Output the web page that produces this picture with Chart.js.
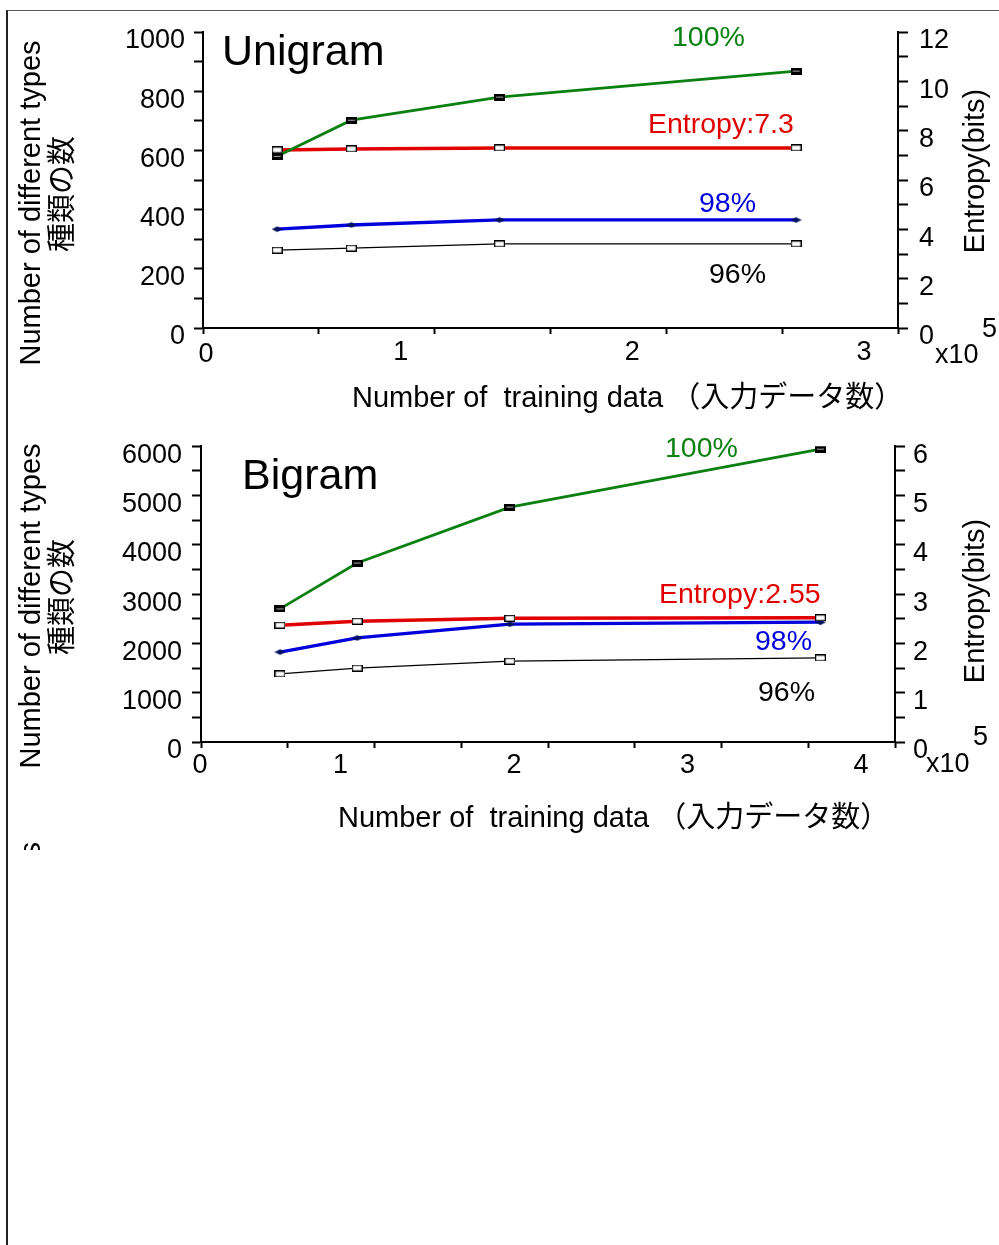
<!DOCTYPE html>
<html>
<head>
<meta charset="utf-8">
<script src="https://cdn.jsdelivr.net/npm/chart.js@4.4.1/dist/chart.umd.min.js"></script>
<style>
  html, body { margin: 0; padding: 0; background: #fff; }
  body { width: 999px; height: 1245px; overflow: hidden; position: relative; }
  #frame { position: absolute; left: 6px; top: 10px; width: 1000px; height: 1300px;
           border-top: 1px solid #555; border-left: 2px solid #222; }
  canvas { position: absolute; left: 0; }
  #uni { top: 0; }
  #bi { top: 420px; }
</style>
</head>
<body>
<div id="frame"></div>
<canvas id="uni" width="999" height="420"></canvas>
<canvas id="bi" width="999" height="430"></canvas>
<script>
// Unigram (x in units of 10^5 training data)
const uniX = [0.32, 0.64, 1.28, 2.56];
const uni100 = [580, 702, 780, 868];
const uni98 = [334, 348, 365, 365];
const uni96 = [263, 270, 284, 284];
const uniEntropy = [7.22, 7.26, 7.3, 7.3];

// Bigram
const biX = [0.455, 0.9, 1.78, 3.57];
const bi100 = [2700, 3630, 4765, 5940];
const bi98 = [1825, 2110, 2390, 2430];
const bi96 = [1380, 1500, 1640, 1705];
const biEntropy = [2.37, 2.45, 2.51, 2.52];

// tick labels
const uniXTicks = [1, 2, 3];
const uniYTicks = [0, 200, 400, 600, 800, 1000];
const uniY1Ticks = [0, 2, 4, 6, 8, 10, 12];
const biXTicks = [1, 2, 3, 4];
const biYTicks = [0, 1000, 2000, 3000, 4000, 5000, 6000];
const biY1Ticks = [0, 1, 2, 3, 4, 5, 6];

const FONT = '"Liberation Sans", Arial, "Noto Sans CJK JP", sans-serif';
const GREEN = "#0a8010", RED = "#e00000", BLUE = "#0000dd";

const makeMarker = (kind) => {
  const c = document.createElement("canvas");
  c.width = 11; c.height = 7;
  const g = c.getContext("2d");
  if (kind === "hollow") {
    g.fillStyle = "#fff"; g.fillRect(0, 0, 11, 7);
    g.strokeStyle = "#000"; g.lineWidth = 1.3; g.strokeRect(0.6, 0.6, 9.8, 5.8);
  } else if (kind === "dark") {
    g.fillStyle = "#000"; g.fillRect(0, 0, 11, 7);
    g.fillStyle = "#aaa"; g.fillRect(2, 3, 7, 1);
  } else {
    g.fillStyle = "#001060";
    g.beginPath(); g.moveTo(0, 3.5); g.lineTo(5.5, 0.8); g.lineTo(11, 3.5); g.lineTo(5.5, 6.2); g.closePath(); g.fill();
  }
  return c;
};
const hollow = makeMarker("hollow");
const dark = makeMarker("dark");
const diamond = makeMarker("diamond");

const series = (xs, ys, color, width, marker, axis) => ({
  data: xs.map((x, i) => ({ x, y: ys[i] })),
  borderColor: color,
  backgroundColor: color,
  borderWidth: width,
  pointStyle: marker,
  pointRadius: 4,
  yAxisID: axis,
  tension: 0,
  fill: false,
});

const textPlugin = (items) => ({
  id: "texts",
  afterDraw(chart) {
    const ctx = chart.ctx;
    items.forEach((t) => {
      ctx.save();
      ctx.font = t.font;
      ctx.fillStyle = t.color || "#000";
      ctx.textAlign = t.align || "left";
      ctx.textBaseline = t.baseline || "alphabetic";
      ctx.translate(t.x, t.y);
      if (t.rot) ctx.rotate(t.rot);
      ctx.fillText(t.text, 0, 0);
      ctx.restore();
    });
  },
});

const axisCommon = (min, max, step, labels, extra) => ({
  type: "linear",
  min, max,
  border: { color: "#000", width: 2 },
  grid: { drawOnChartArea: false, tickColor: "#000", tickWidth: 2, tickLength: extra.tickLength },
  ticks: {
    stepSize: step,
    autoSkip: false,
    maxRotation: 0,
    color: "#000",
    font: { family: FONT, size: 27 },
    padding: extra.padding,
    labelOffset: extra.labelOffset,
    callback: (v) => (labels.includes(v) ? String(v) : ""),
  },
  afterFit: extra.fit,
  position: extra.position,
});

const makeChart = (id, cfg) => {
  new Chart(document.getElementById(id).getContext("2d"), {
    type: "line",
    data: { datasets: cfg.datasets },
    options: {
      responsive: false,
      animation: false,
      events: [],
      layout: { padding: { top: cfg.top, left: 0, right: 0, bottom: 0 } },
      plugins: { legend: { display: false }, tooltip: { enabled: false } },
      scales: {
        x: axisCommon(0, cfg.xMax, 0.5, cfg.xTicks, {
          position: "bottom", tickLength: 6, padding: cfg.xPad, labelOffset: -34,
          fit: (s) => { s.height = cfg.xHeight; },
        }),
        y: axisCommon(0, cfg.yMax, cfg.yStep, cfg.yTicks, {
          position: "left", tickLength: 9, padding: cfg.yPad, labelOffset: 9,
          fit: (s) => { s.width = cfg.left; },
        }),
        y1: axisCommon(0, cfg.y1Max, cfg.y1Step, cfg.y1Ticks, {
          position: "right", tickLength: 10, padding: cfg.y1Pad, labelOffset: 9,
          fit: (s) => { s.width = cfg.rightW; },
        }),
      },
    },
    plugins: [textPlugin(cfg.texts)],
  });
};

const f = (size) => `${size}px ${FONT}`;
const xTitle = "Number of  training data \uFF08入力データ数\uFF09";

makeChart("uni", {
  top: 32, left: 203, rightW: 101, xHeight: 92,
  xMax: 3, yMax: 1000, yStep: 100, y1Max: 12, y1Step: 1,
  xTicks: uniXTicks, yTicks: uniYTicks, y1Ticks: uniY1Ticks,
  xPad: 2, yPad: 9, y1Pad: 11,
  datasets: [
    series(uniX, uni100, GREEN, 2.8, dark, "y"),
    series(uniX, uniEntropy, RED, 3.5, hollow, "y1"),
    series(uniX, uni98, BLUE, 3.3, diamond, "y"),
    series(uniX, uni96, "#000", 1.3, hollow, "y"),
  ],
  texts: [
    { text: "Unigram", x: 222, y: 65, font: f(43) },
    { text: "100%", x: 672, y: 46, font: f(28.5), color: GREEN },
    { text: "Entropy:7.3", x: 648, y: 133, font: f(28.5), color: RED },
    { text: "98%", x: 699, y: 212, font: f(28.5), color: BLUE },
    { text: "96%", x: 709, y: 283, font: f(28.5) },
    { text: "0", x: 206, y: 362, font: f(27), align: "center" },
    { text: "x10", x: 935, y: 363, font: f(27) },
    { text: "5", x: 982, y: 337, font: f(27) },
    { text: "Number of different types", x: 32, y: 203, font: f(29), align: "center", baseline: "middle", rot: -Math.PI / 2 },
    { text: "種類の数", x: 64, y: 194, font: f(29), align: "center", baseline: "middle", rot: -Math.PI / 2 },
    { text: "Entropy(bits)", x: 976, y: 171, font: f(29), align: "center", baseline: "middle", rot: -Math.PI / 2 },
    { text: xTitle, x: 352, y: 407, font: f(29) },
  ],
});

makeChart("bi", {
  top: 26, left: 201, rightW: 104, xHeight: 108,
  xMax: 4, yMax: 6000, yStep: 500, y1Max: 6, y1Step: 0.5,
  xTicks: biXTicks, yTicks: biYTicks, y1Ticks: biY1Ticks,
  xPad: 1, yPad: 10, y1Pad: 8,
  datasets: [
    series(biX, bi100, GREEN, 2.8, dark, "y"),
    series(biX, biEntropy, RED, 3.5, hollow, "y1"),
    series(biX, bi98, BLUE, 3.3, diamond, "y"),
    series(biX, bi96, "#000", 1.3, hollow, "y"),
  ],
  texts: [
    { text: "Bigram", x: 242, y: 69, font: f(43) },
    { text: "100%", x: 665, y: 37, font: f(28.5), color: GREEN },
    { text: "Entropy:2.55", x: 659, y: 183, font: f(28.5), color: RED },
    { text: "98%", x: 755, y: 230, font: f(28.5), color: BLUE },
    { text: "96%", x: 758, y: 281, font: f(28.5) },
    { text: "0", x: 200, y: 353, font: f(27), align: "center" },
    { text: "x10", x: 926, y: 352, font: f(27) },
    { text: "5", x: 973, y: 325, font: f(27) },
    { text: "Number of different types", x: 32, y: 186, font: f(29), align: "center", baseline: "middle", rot: -Math.PI / 2 },
    { text: "種類の数", x: 64, y: 177, font: f(29), align: "center", baseline: "middle", rot: -Math.PI / 2 },
    { text: "Entropy(bits)", x: 976, y: 181, font: f(29), align: "center", baseline: "middle", rot: -Math.PI / 2 },
    { text: xTitle, x: 338, y: 407, font: f(29) },
    { text: "Number of different types", x: 32, y: 422, font: f(29), align: "right", baseline: "middle", rot: -Math.PI / 2 },
  ],
});
</script>
</body>
</html>
